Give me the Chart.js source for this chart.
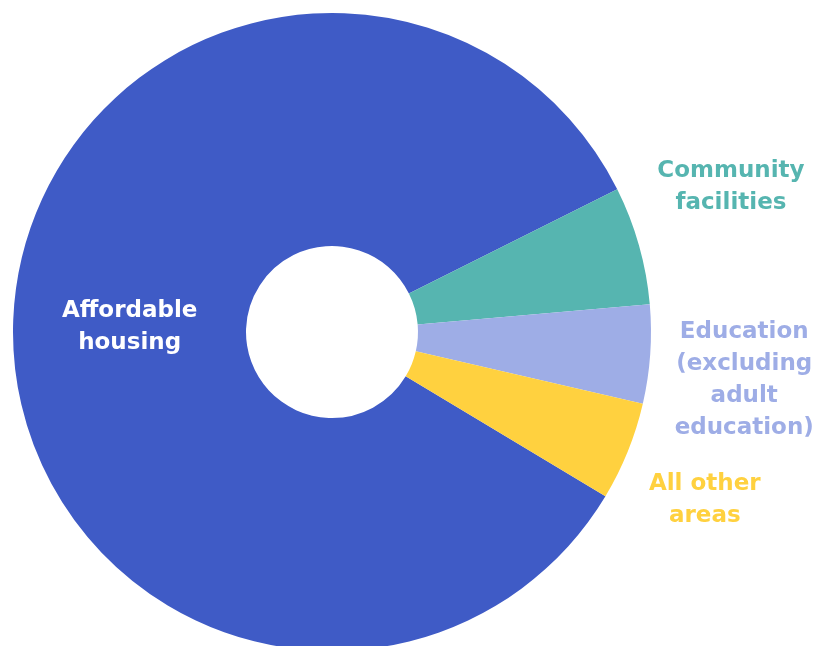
<!DOCTYPE html>
<html>
<head>
<meta charset="utf-8">
<script src="https://cdn.jsdelivr.net/npm/chart.js@4/dist/chart.umd.min.js"></script>
<style>
  html, body { margin: 0; padding: 0; background: #ffffff; overflow: hidden; width: 816px; height: 646px; }
  #wrap { width: 816px; height: 646px; overflow: hidden; position: relative; }
  canvas { display: block; }
</style>
</head>
<body>
<div id="wrap"><canvas id="c" width="816" height="664" style="width:816px;height:664px"></canvas></div>
<script>
// ---- data ----
const categories = ['Affordable housing', 'Community facilities', 'Education (excluding adult education)', 'All other areas'];
const shares = [84, 6, 5, 5];
const labelLines = [
  ['Affordable', 'housing'],
  ['Community', 'facilities'],
  ['Education', '(excluding', 'adult', 'education)'],
  ['All other', 'areas']
];

// ---- styles ----
const sliceColors = ['#3F5BC6', '#56B5B0', '#9EADE6', '#FFD13F'];
const labelColors = ['#FFFFFF', '#56B5B0', '#9EADE6', '#FFD13F'];
const labelPlacement = ['inside', 'outside', 'outside', 'outside'];
const labelShift = [[0, 0], [92, -61], [94, 23], [77, 46]];

const sliceLabels = {
  id: 'sliceLabels',
  afterDatasetsDraw(chart, args, opts) {
    const ctx = chart.ctx;
    const meta = chart.getDatasetMeta(0);
    ctx.save();
    ctx.font = opts.font;
    ctx.textAlign = 'center';
    ctx.textBaseline = 'alphabetic';
    meta.data.forEach((arc, i) => {
      const p = arc.getProps(['x', 'y', 'startAngle', 'endAngle', 'innerRadius', 'outerRadius'], true);
      const mid = (p.startAngle + p.endAngle) / 2;
      let cx, cy;
      if (labelPlacement[i] === 'inside') {
        const r = (p.innerRadius + p.outerRadius) / 2;
        cx = p.x + Math.cos(mid) * r;
        cy = p.y + Math.sin(mid) * r;
      } else {
        cx = p.x + Math.cos(mid) * p.outerRadius + labelShift[i][0];
        cy = p.y + Math.sin(mid) * p.outerRadius + labelShift[i][1];
      }
      const lines = labelLines[i];
      const n = lines.length;
      ctx.fillStyle = labelColors[i];
      lines.forEach((t, k) => {
        const by = cy + (k - (n - 1) / 2) * opts.lineHeight + opts.capHalf;
        ctx.fillText(t, cx, by);
      });
    });
    ctx.restore();
  }
};

new Chart(document.getElementById('c'), {
  type: 'doughnut',
  data: {
    labels: categories,
    datasets: [{
      data: shares,
      backgroundColor: sliceColors,
      borderWidth: 0,
      hoverOffset: 0
    }]
  },
  options: {
    responsive: false,
    devicePixelRatio: 1,
    animation: false,
    rotation: 121,
    cutout: 86,
    layout: { padding: { left: 13, right: 165, top: 13, bottom: 13 } },
    plugins: {
      legend: { display: false },
      tooltip: { enabled: false },
      sliceLabels: { font: 'bold 23px "DejaVu Sans"', lineHeight: 32, capHalf: 8.5 }
    }
  },
  plugins: [sliceLabels]
});
</script>
</body>
</html>
